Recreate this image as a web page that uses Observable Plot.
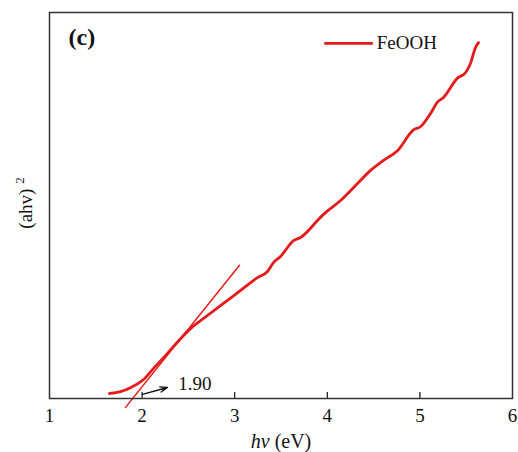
<!DOCTYPE html>
<html>
<head>
<meta charset="utf-8">
<script src="https://cdn.jsdelivr.net/npm/d3@7"></script>
<script src="https://cdn.jsdelivr.net/npm/@observablehq/plot@0.6"></script>
<style>
  body { margin: 0; background: #fff; }
</style>
</head>
<body>
<div id="chart"></div>
<script>
// Measured curve: photon energy (eV) vs (αhν)^2 (arbitrary units)
const energy = [1.648,1.767,1.875,2.015,2.123,2.274,2.415,2.523,2.706,2.922,3.063,3.246,3.354,3.419,3.495,3.635,3.711,3.894,3.959,4.143,4.326,4.467,4.607,4.758,4.931,5.006,5.114,5.190,5.255,5.406,5.492,5.546,5.600,5.633];
const absorb = [1.3,1.8,2.8,4.9,7.8,11.7,15.5,18.1,21.5,25.4,28.0,31.3,32.9,35.2,36.8,40.9,41.7,46.1,47.7,51.3,55.7,59.1,61.7,64.2,69.6,70.4,73.8,76.8,78.0,83.0,84.4,86.8,90.9,92.2];
// Tangent (Tauc) line end points
const tangentX = [1.821, 3.052];
const tangentY = [-2.3, 34.5];
// Band gap annotation
const gapLabel = "1.90";
const arrowFrom = [2.004, 1.04];
const arrowTo = [2.274, 2.85];
const labelAt = [2.39, 3.9];
const xTicks = [1, 2, 3, 4, 5, 6];
const seriesName = "FeOOH";
const legendX = [3.98, 4.48];
const legendY = 92.0;
const panelLabel = "(c)";

const red = "#e51a1a";
const serif = "'Liberation Serif', 'Times New Roman', serif";
const curve = energy.map((e, i) => ({x: e, y: absorb[i]}));
const tangent = tangentX.map((t, i) => ({x: t, y: tangentY[i]}));

const plot = Plot.plot({
  width: 518,
  height: 452,
  marginLeft: 49,
  marginRight: 6,
  marginTop: 12,
  marginBottom: 54,
  x: {domain: [1, 6], ticks: xTicks, label: null},
  y: {domain: [0, 100], axis: null},
  style: {fontFamily: serif, fontSize: "19px", color: "#111", background: "#fff"},
  marks: [
    Plot.axisX({ticks: xTicks, tickSize: 0, tickPadding: 10, fontSize: 19, label: null, tickFormat: d => String(d)}),
    Plot.tickX(xTicks.slice(1, -1), {x: d => d, stroke: "#111", strokeWidth: 1.2, insetTop: 380}),
    Plot.line(tangent, {x: "x", y: "y", stroke: red, strokeWidth: 1.5}),
    Plot.line(curve, {x: "x", y: "y", stroke: red, strokeWidth: 2.8, curve: "monotone-x"}),
    Plot.arrow([{x1: arrowFrom[0], y1: arrowFrom[1], x2: arrowTo[0], y2: arrowTo[1]}], {x1: "x1", y1: "y1", x2: "x2", y2: "y2", stroke: "#111", strokeWidth: 1.3, headLength: 9, headAngle: 40}),
    Plot.text([gapLabel], {x: labelAt[0], y: labelAt[1], text: d => d, textAnchor: "start", fontSize: 19, fill: "#111"}),
    Plot.line([{x: legendX[0], y: legendY}, {x: legendX[1], y: legendY}], {x: "x", y: "y", stroke: red, strokeWidth: 2.8}),
    Plot.text([seriesName], {x: legendX[1], y: legendY, dx: 5, text: d => d, textAnchor: "start", fontSize: 19, fill: "#111"}),
    Plot.text([panelLabel], {frameAnchor: "top-left", dx: 19, dy: 15, text: d => d, fontSize: 24, fontWeight: "bold", fill: "#111", textAnchor: "start", lineAnchor: "top"}),
    Plot.frame({stroke: "#333", strokeWidth: 1.5})
  ]
});
plot.style.fontFamily = serif;
document.getElementById("chart").appendChild(plot);

const svg = d3.select(plot);
// x axis title: italic hν then (eV)
const xt = svg.append("text")
  .attr("x", 281).attr("y", 448)
  .attr("text-anchor", "middle")
  .attr("font-family", serif)
  .attr("font-size", 20).attr("fill", "#111");
xt.append("tspan").attr("font-style", "italic").text("hν");
xt.append("tspan").text(" (eV)");
// y axis title: (ahv) 2 (superscript)
const yt = svg.append("text")
  .attr("transform", "translate(32,203) rotate(-90)")
  .attr("text-anchor", "middle")
  .attr("font-family", serif)
  .attr("font-size", 19).attr("fill", "#111");
yt.append("tspan").text("(ahv) ");
yt.append("tspan").attr("font-size", 13).attr("dy", -8).text("2");
</script>
</body>
</html>
